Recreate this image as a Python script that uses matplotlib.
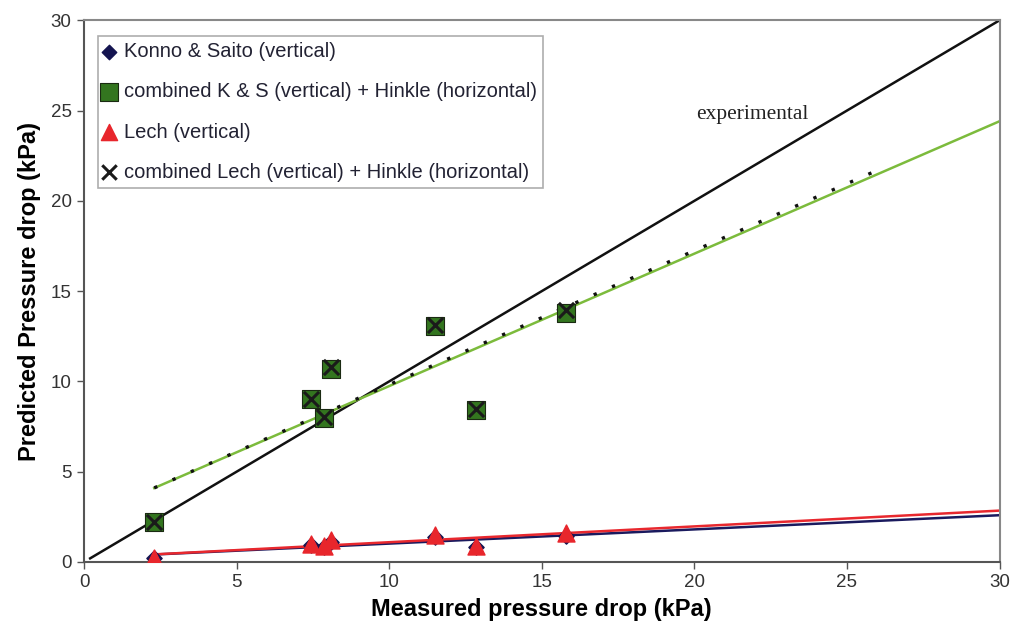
import numpy as np
import matplotlib.pyplot as plt

# measured pressure drop (kPa)
measured = [2.3, 7.45, 7.85, 8.1, 11.5, 12.85, 15.8]

# predicted pressure drop (kPa)
konno = [0.2, 0.95, 0.85, 1.1, 1.4, 0.85, 1.45]
lech = [0.2, 1.0, 0.9, 1.2, 1.5, 0.9, 1.6]
combined_ks = [2.2, 9.0, 8.0, 10.7, 13.05, 8.4, 13.8]
combined_lech = [2.2, 9.05, 8.05, 10.8, 13.15, 8.45, 13.95]

experimental = [0.2, 30]

plt.rcParams['font.family'] = ['Liberation Sans', 'DejaVu Sans']

fig = plt.figure(figsize=(10.21, 6.34), dpi=100)
ax = fig.add_axes([0.0823, 0.1136, 0.8967, 0.8544])

x = np.array(measured)


def trend(y, x_end):
    k, b = np.polyfit(x, y, 1)
    xs = np.array([x.min(), x_end])
    return xs, k * xs + b


# experimental line y = x
ax.plot(experimental, experimental, color='#111111', lw=1.8, zorder=2)
ax.text(21.9, 24.8, 'experimental', family='Liberation Serif', fontsize=15.5,
        color='#222222', ha='center', va='center')

# trend lines
xs, ys = trend(combined_ks, 30)
ax.plot(xs, ys, color='#7cbb3c', lw=1.8, zorder=2)
xs, ys = trend(combined_lech, 25.9)
ax.plot(xs, ys, color='#111111', lw=2.4, ls=(0, (1, 5)), zorder=2)
xs, ys = trend(konno, 30)
ax.plot(xs, ys, color='#1a1a5e', lw=1.8, zorder=2)
xs, ys = trend(lech, 30)
ax.plot(xs, ys, color='#e8282e', lw=1.8, zorder=2)

# data points
ax.scatter(measured, konno, marker='D', s=60, color='#141450', zorder=3,
           label='Konno & Saito (vertical)')
ax.scatter(measured, combined_ks, marker='s', s=170, color='#33751f',
           edgecolors='#1a2a12', linewidths=0.8, zorder=3,
           label='combined K & S (vertical) + Hinkle (horizontal)')
ax.scatter(measured, lech, marker='^', s=150, color='#e8262c', zorder=4,
           label='Lech (vertical)')
ax.scatter(measured, combined_lech, marker='x', s=120, color='#1a1a1a',
           linewidths=2.2, zorder=4,
           label='combined Lech (vertical) + Hinkle (horizontal)')

ax.set_xlim(0, 30)
ax.set_ylim(0, 30)
ax.set_xticks(range(0, 31, 5))
ax.set_yticks(range(0, 31, 5))
ax.tick_params(direction='out', length=5, width=1, colors='#555555',
               labelsize=13.5, labelcolor='#333333', pad=4)

for side in ['top', 'right']:
    ax.spines[side].set_color('#888888')
    ax.spines[side].set_linewidth(1.5)
for side in ['left', 'bottom']:
    ax.spines[side].set_color('#555555')
    ax.spines[side].set_linewidth(1.5)

ax.set_xlabel('Measured pressure drop (kPa)', fontsize=17, fontweight='bold',
              labelpad=5)
ax.set_ylabel('Predicted Pressure drop (kPa)', fontsize=17, fontweight='bold',
              labelpad=7)

leg = ax.legend(loc='upper left', bbox_to_anchor=(0.0153, 0.9705), fontsize=14.5,
                frameon=True, fancybox=False, edgecolor='#999999',
                handletextpad=0.55, handlelength=0.45, labelspacing=1.05,
                borderpad=0.3, borderaxespad=0, scatterpoints=1,
                markerscale=0.95)
leg.get_frame().set_linewidth(1.2)
for t in leg.get_texts():
    t.set_color('#222233')

fig.savefig('out.png', dpi=100)
